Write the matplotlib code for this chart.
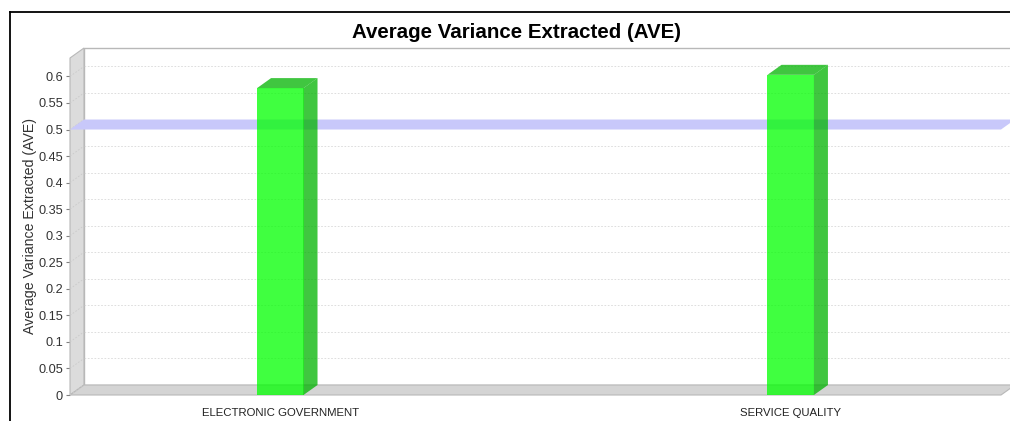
import matplotlib
matplotlib.use("Agg")
import matplotlib.pyplot as plt
import numpy as np
from matplotlib.patches import Polygon, Rectangle
from matplotlib.lines import Line2D

plt.rcParams['font.family'] = ['Liberation Sans', 'DejaVu Sans']

# ---- data ----
categories = ["ELECTRONIC GOVERNMENT", "SERVICE QUALITY"]
ave_values = [0.578, 0.603]
threshold = 0.5
y_ticks = [0, 0.05, 0.1, 0.15, 0.2, 0.25, 0.3, 0.35, 0.4, 0.45, 0.5, 0.55, 0.6]
y_tick_labels = ["0", "0.05", "0.1", "0.15", "0.2", "0.25", "0.3", "0.35",
                 "0.4", "0.45", "0.5", "0.55", "0.6"]
title = "Average Variance Extracted (AVE)"
y_label = "Average Variance Extracted (AVE)"

W, H = 1010, 421
fig = plt.figure(figsize=(W / 100, H / 100), dpi=100)
fig.patch.set_facecolor("white")

# front plane of the plot
left_px, right_px, top_px, bot_px = 70, 1001, 58, 395
ax = fig.add_axes([left_px / W, 1 - bot_px / H, (right_px - left_px) / W, (bot_px - top_px) / H])
xlim = (-0.412, 1.412)
ylim = (0, 0.6347)
ax.set_xlim(*xlim)
ax.set_ylim(*ylim)
ax.patch.set_visible(False)
for s in ax.spines.values():
    s.set_visible(False)

# 3D depth offset expressed in data units
dpx, dpy = 14, 10
p0 = ax.transData.transform((0, 0))
ddx, ddy = ax.transData.inverted().transform(p0 + np.array([dpx, dpy]))

x0, x1 = xlim
ytop = ylim[1]
wall_col = "#dcdcdc"
edge_col = "#b8b8b8"

# back wall
ax.add_patch(Rectangle((x0 + ddx, ddy), (x1 - x0), ytop, facecolor="white",
                       edgecolor=edge_col, lw=1.0, clip_on=False, zorder=1))
# gridlines on back wall and left wall
for t in y_ticks:
    ax.add_line(Line2D([x0 + ddx, x1 + ddx], [t + ddy, t + ddy], color="#d8d8d8",
                       lw=0.6, ls=(0, (2, 2)), clip_on=False, zorder=2))
# left wall
ax.add_patch(Polygon([(x0, 0), (x0 + ddx, ddy), (x0 + ddx, ytop + ddy), (x0, ytop)],
                     closed=True, facecolor=wall_col, edgecolor=edge_col, lw=0.8,
                     clip_on=False, zorder=3))
for t in y_ticks:
    ax.add_line(Line2D([x0, x0 + ddx], [t, t + ddy], color="#cacaca",
                       lw=0.6, ls=(0, (2, 2)), clip_on=False, zorder=3.5))
# floor
ax.add_patch(Polygon([(x0, 0), (x1, 0), (x1 + ddx, ddy), (x0 + ddx, ddy)],
                     closed=True, facecolor="#d4d4d4", edgecolor=edge_col, lw=0.8,
                     clip_on=False, zorder=3))

# threshold marker band
ax.add_patch(Polygon([(x0, threshold), (x1, threshold), (x1 + ddx, threshold + ddy),
                      (x0 + ddx, threshold + ddy)], closed=True, facecolor="#c8c8fa",
                     edgecolor="none", clip_on=False, zorder=4))

# bars
bw = 0.091
for i, v in enumerate(ave_values):
    a, b = i - bw / 2, i + bw / 2
    ax.add_patch(Rectangle((a, 0), bw, v, facecolor=(0, 1, 0), alpha=0.75,
                           edgecolor="none", clip_on=False, zorder=5))
    ax.add_patch(Polygon([(b, 0), (b + ddx, ddy), (b + ddx, v + ddy), (b, v)], closed=True,
                         facecolor=(0, 0.7, 0), alpha=0.75, edgecolor="none",
                         clip_on=False, zorder=5))
    ax.add_patch(Polygon([(a, v), (b, v), (b + ddx, v + ddy), (a + ddx, v + ddy)], closed=True,
                         facecolor=(0, 0.7, 0), alpha=0.75, edgecolor="none",
                         clip_on=False, zorder=5))

# axes ticks
ax.set_yticks(y_ticks)
ax.set_yticklabels(y_tick_labels)
ax.tick_params(axis="y", length=3, width=0.8, color="#808080", pad=2,
               labelsize=9.2, labelcolor="#333333")
ax.set_xticks(range(len(categories)))
ax.set_xticklabels(categories)
ax.tick_params(axis="x", length=0, pad=9, labelsize=8.2, labelcolor="#222222")
ax.set_ylabel(y_label, fontsize=10.2, color="#333333", labelpad=1)

# title
fig.text(516 / W, 1 - 33 / H, title, ha="center", va="center",
         fontsize=14.8, fontweight="bold", color="black")

# black frame
fy = 1 - 12 / H
fx = 10 / W
fig.add_artist(Line2D([fx, 1.0], [fy, fy], color="black", lw=1.3, transform=fig.transFigure))
fig.add_artist(Line2D([fx, fx], [0, fy], color="black", lw=1.3, transform=fig.transFigure))

fig.savefig("out.png", dpi=100)
